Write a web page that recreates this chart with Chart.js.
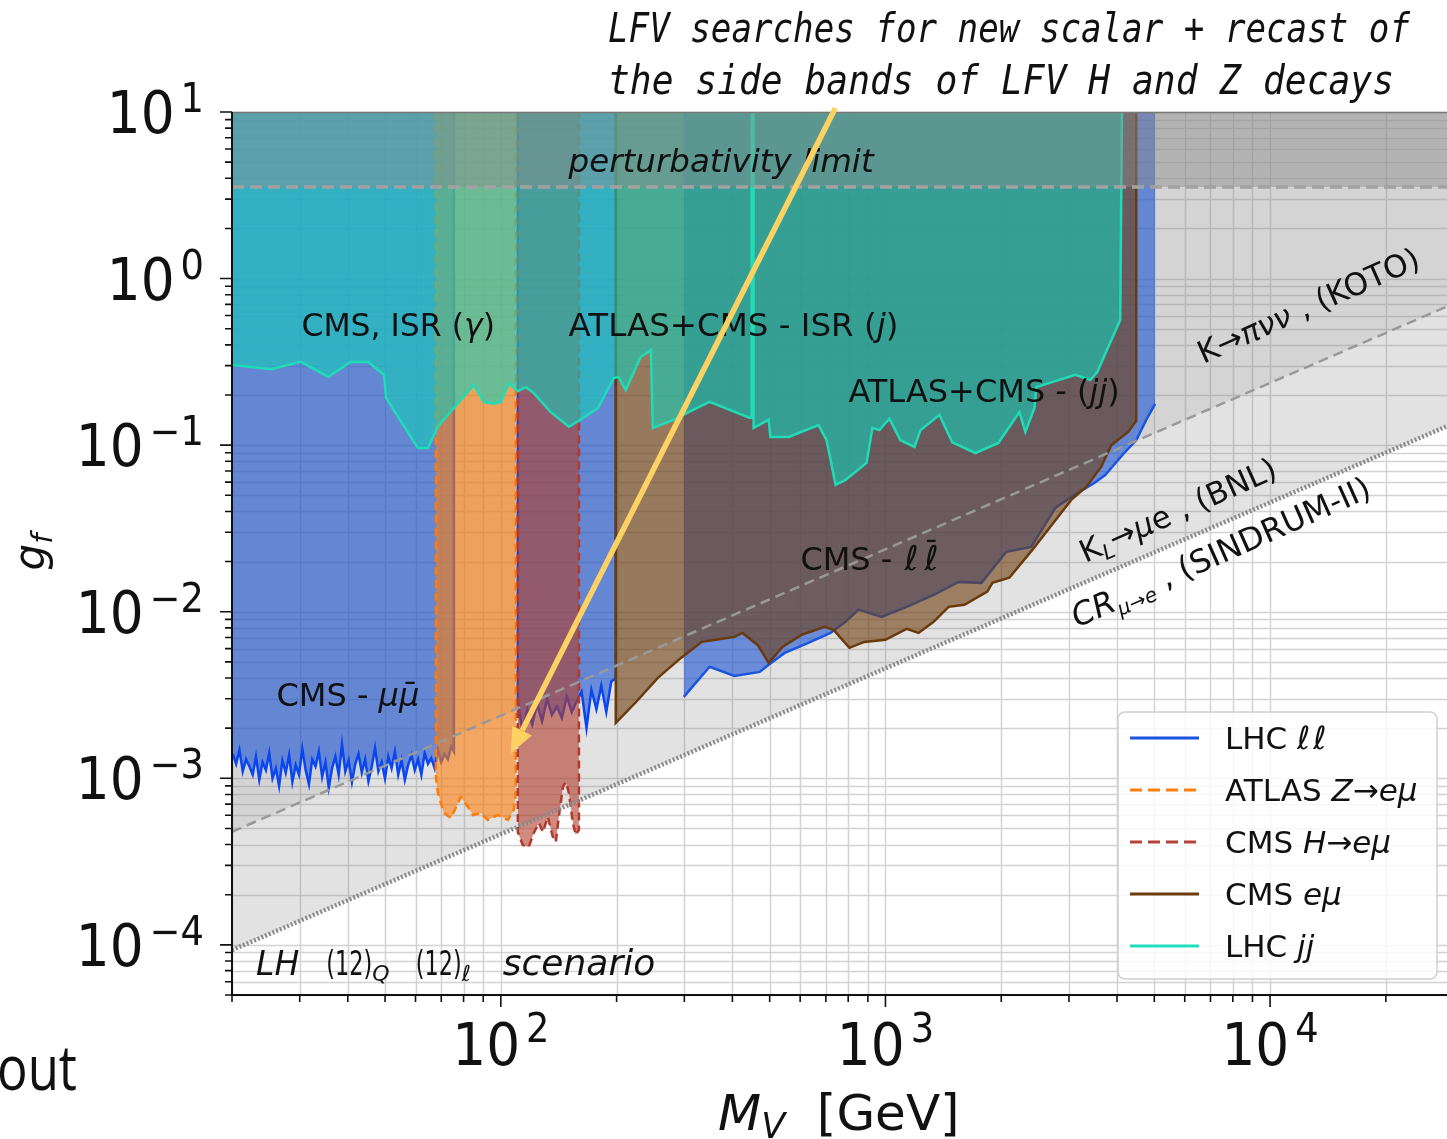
<!DOCTYPE html>
<html>
<head>
<meta charset="utf-8">
<title>LFV vector bounds</title>
<script src="https://cdn.jsdelivr.net/npm/chart.js@4.4.1/dist/chart.umd.min.js"></script>
<style>
  html, body { margin: 0; padding: 0; background: #fff; overflow: hidden; }
  #wrap { position: relative; width: 1447px; height: 1139px; }
</style>
</head>
<body>
<div id="wrap"><canvas id="limits"></canvas></div>
<script>
// axis ranges and tick labels (powers of ten)
const massRange = [20, 28840];
const couplingRange = [5e-5, 10];
const xTickExps = [2, 3, 4];
const yTickExps = [-4, -3, -2, -1, 0, 1];

// CMS mu mu, below the Z peak (last point closes the region at the top)
const muMuMassA = [20.10, 20.50, 20.91, 21.33, 21.76, 22.19, 22.64, 23.09, 23.55, 24.02, 24.50, 24.99, 25.49,
  26.00, 26.52, 27.05, 27.59, 28.15, 28.71, 29.28, 29.87, 30.47, 31.08, 31.70, 32.33, 32.98, 33.64, 34.31, 35.00,
  35.70, 36.41, 37.14, 37.88, 38.64, 39.41, 40.20, 41.01, 41.83, 42.66, 43.51, 44.38, 45.27, 46.18, 47.10, 48.04,
  49.00, 49.98, 50.98, 52.00, 53.04, 54.10, 55.18, 56.29, 57.41, 58.56, 59.73, 60.93, 62.14, 63.39, 64.65, 65.95,
  67.27, 68.61, 69.98, 71.38, 72.81, 74.27, 75.50, 75.50];
const muMuCoupA = [1.40e-3, 1.22e-3, 1.48e-3, 1.10e-3, 1.30e-3, 1.18e-3, 1.05e-3, 1.35e-3, 0.98e-3, 1.25e-3,
  1.12e-3, 1.42e-3, 1.00e-3, 1.15e-3, 0.90e-3, 1.28e-3, 1.08e-3, 1.38e-3, 0.95e-3, 1.20e-3,
  1.05e-3, 1.50e-3, 1.12e-3, 0.92e-3, 1.30e-3, 1.18e-3, 1.45e-3, 1.02e-3, 1.25e-3, 0.88e-3,
  1.15e-3, 1.35e-3, 1.05e-3, 1.60e-3, 1.10e-3, 1.28e-3, 0.95e-3, 1.22e-3, 1.40e-3, 1.08e-3,
  1.30e-3, 0.96e-3, 1.18e-3, 1.52e-3, 1.10e-3, 1.25e-3, 1.00e-3, 1.35e-3, 1.15e-3, 1.45e-3,
  1.05e-3, 1.28e-3, 0.98e-3, 1.20e-3, 1.38e-3, 1.12e-3, 1.30e-3, 1.05e-3, 1.42e-3, 1.22e-3,
  1.32e-3, 1.15e-3, 1.48e-3, 1.25e-3, 1.40e-3, 1.30e-3, 1.55e-3, 1.45e-3, 10];
// CMS mu mu, above the Z peak
const muMuMassB = [110.7, 110.7, 113.8, 117.2, 120.7, 124.3, 128.0, 131.9, 135.8, 139.9, 144.1, 148.4, 152.9,
  157.5, 162.2, 167.0, 172.0, 177.2, 182.5, 188.0, 193.6, 199.0, 199.0];
const muMuCoupB = [10, 2.9e-3, 1.9e-3, 2.6e-3, 2.1e-3, 2.8e-3, 2.2e-3, 3.0e-3, 2.4e-3, 2.7e-3, 2.3e-3, 3.1e-3,
  2.5e-3, 2.9e-3, 3.3e-3, 2.0e-3, 3.4e-3, 2.6e-3, 3.6e-3, 2.5e-3, 3.8e-3, 4.0e-3, 10];
// CMS l l, high mass
const llMass = [299, 349, 405, 471, 497, 547, 613, 720, 787, 851, 977, 1135, 1334, 1549, 1776, 2061, 2393, 2765,
  3041, 3491, 3727, 4175, 4487, 4795, 5027];
const llCoup = [3.08e-3, 4.67e-3, 4.12e-3, 4.35e-3, 4.80e-3, 5.66e-3, 6.32e-3, 7.46e-3, 8.69e-3, 0.0103, 9.31e-3,
  0.0107, 0.0126, 0.0151, 0.0149, 0.0229, 0.0245, 0.042, 0.0489, 0.0593, 0.0662, 0.0897, 0.107, 0.146, 0.177];
// ATLAS Z -> e mu
const zEmuMass = [67.8, 67.8, 68.6, 71.1, 74.2, 78.7, 82.1, 84.6, 88.7, 92.5, 98.2, 104.3, 108.1, 109.4, 109.4];
const zEmuCoup = [10, 1.02e-3, 8.17e-4, 6.19e-4, 5.78e-4, 7.73e-4, 6.73e-4, 6.02e-4, 6.19e-4, 5.62e-4, 6.02e-4,
  5.62e-4, 6.46e-4, 8.17e-4, 10];
// CMS H -> e mu
const hEmuMass = [110.7, 110.7, 114.0, 118.2, 121.8, 125.6, 128.6, 132.5, 136.5, 139.0, 141.5, 145.0, 147.6,
  150.3, 153.9, 156.6, 159.6, 159.6];
const hEmuCoup = [10, 4.76e-4, 3.98e-4, 3.87e-4, 4.70e-4, 5.40e-4, 4.76e-4, 5.86e-4, 4.45e-4, 4.15e-4, 5.86e-4,
  8.87e-4, 9.50e-4, 8.17e-4, 5.40e-4, 4.57e-4, 4.90e-4, 10];
// CMS e mu
const eMuMass = [199, 199, 225, 256, 294, 333, 362, 405, 425, 465, 497, 540, 605, 695, 733, 806, 881, 1000, 1135,
  1219, 1334, 1459, 1604, 1840, 1897, 2099, 2409, 2731, 3041, 3326, 3638, 3863, 4275, 4487, 4487];
const eMuCoup = [10, 2.15e-3, 2.88e-3, 4.01e-3, 5.28e-3, 6.59e-3, 6.78e-3, 7.06e-3, 7.46e-3, 6.32e-3, 4.93e-3,
  6.15e-3, 7.26e-3, 8.11e-3, 7.78e-3, 6.07e-3, 6.59e-3, 6.78e-3, 7.89e-3, 7.46e-3, 8.69e-3, 0.0107, 0.011,
  0.0132, 0.0149, 0.016, 0.0235, 0.0341, 0.0469, 0.0561, 0.074, 0.1, 0.12, 0.14, 10];
// LHC jj: CMS ISR(gamma), ATLAS+CMS ISR(j), ATLAS+CMS dijet
const jjMass = [20.1, 25.3, 30.2, 35.6, 40.7, 45.2, 49.7, 50.3, 60.8, 64.6, 68.6, 78.7, 85.1, 90.3, 95.3, 100,
  104.9, 110.7, 116.1, 121.1, 134.8, 150.3, 159.6, 178.7, 196.7, 202.5, 211.2, 231, 245.5, 248.4, 281.4, 307.6,
  349, 443, 449, 449, 454, 454, 497, 502, 560, 670, 703, 742, 787, 893, 925, 964, 1024, 1094, 1190, 1233, 1381,
  1492, 1713, 1966, 2230, 2311, 2440, 2468, 3116, 3408, 3554, 4077, 4120];
const jjCoup = [0.303, 0.286, 0.316, 0.257, 0.316, 0.316, 0.264, 0.192, 0.0962, 0.0962, 0.129, 0.187, 0.23,
  0.182, 0.177, 0.182, 0.236, 0.211, 0.223, 0.208, 0.158, 0.129, 0.14, 0.167, 0.253, 0.257, 0.214, 0.338, 0.372,
  0.127, 0.142, 0.158, 0.182, 0.146, 0.146, 10, 10, 0.127, 0.142, 0.112, 0.112, 0.132, 0.107, 0.0577, 0.0618,
  0.0782, 0.127, 0.123, 0.144, 0.107, 0.0975, 0.123, 0.152, 0.104, 0.0897, 0.103, 0.158, 0.12, 0.167, 0.223,
  0.264, 0.246, 0.275, 0.565, 10];
// indirect bounds and perturbativity
const kaonMass = [20, 28840];
const kaonCoup = [4.77e-4, 0.68];
const muConvMass = [20, 28840];
const muConvCoup = [9.3e-5, 0.13];
const pertMass = [20, 28840];
const pertCoup = [3.54, 3.54];

const pts = (xs, ys) => xs.map((x, i) => ({ x, y: ys[i] }));

function region(label, xs, ys, line, fillColor, order, extra) {
  return Object.assign({
    label, data: pts(xs, ys), borderColor: line, backgroundColor: fillColor,
    borderWidth: 2.5, fill: 'end', order, pointRadius: 0, tension: 0
  }, extra || {});
}

// text helpers: a label is a list of segments drawn one after another
const S = (t, size, o = {}) => Object.assign({ t, size }, o);
const fontOf = s => (s.it ? 'italic ' : '') + s.size + 'px ' + (s.family || '"DejaVu Sans"');

function drawRich(ctx, segs, x, y, align) {
  let total = 0;
  const parts = segs.map(s => {
    ctx.font = fontOf(s);
    const w = ctx.measureText(s.t).width * (s.sx || 1) + (s.dx || 0);
    total += w;
    return { s, w };
  });
  let cx = align === 'center' ? x - total / 2 : align === 'right' ? x - total : x;
  parts.forEach(({ s, w }) => {
    ctx.font = fontOf(s);
    ctx.save();
    ctx.translate(cx + (s.dx || 0), y + (s.dy || 0));
    ctx.scale(s.sx || 1, 1);
    ctx.fillText(s.t, 0, 0);
    ctx.restore();
    cx += w;
  });
}

const plotLabels = [
  { at: [30.3, 0.452], segs: [S('CMS, ISR (', 31.5), S('γ', 31.5, { it: 1 }), S(')', 31.5)] },
  { at: [150, 0.452], segs: [S('ATLAS+CMS - ISR (', 32.5), S('j', 32.5, { it: 1 }), S(')', 32.5)] },
  { at: [801, 0.182], segs: [S('ATLAS+CMS - (', 32), S('jj', 32, { it: 1 }), S(')', 32)] },
  { at: [601, 0.0178], segs: [S('CMS - ', 32), S('ℓ', 34, { it: 1, dx: 2 }), S('ℓ', 34, { it: 1, dx: 6 }),
      S('¯', 30, { dx: -15, dy: -8 })] },
  { at: [26.1, 2.72e-3], segs: [S('CMS - ', 32), S('μμ̄', 32, { it: 1 })] },
  { at: [150, 4.36], segs: [S('perturbativity limit', 32.5, { it: 1 })] },
  { at: [23.1, 6.6e-5], segs: [S('LH', 33, { it: 1 }), S('(12)', 33, { dx: 27, sx: 0.68 }),
      S('Q', 22, { it: 1, dy: 6 }), S('(12)', 33, { dx: 26, sx: 0.68 }), S('ℓ', 22, { it: 1, dy: 6 }),
      S('scenario', 36, { it: 1, dx: 32 })] },
  { at: [6699, 0.307], rot: -24, segs: [S('K→', 31), S('πνν', 31, { it: 1 }), S(' , (KOTO)', 31)] },
  { at: [3307, 0.0196], rot: -24, segs: [S('K', 31), S('L', 21, { it: 1, dy: 6 }), S('→', 31),
      S('μ', 31, { it: 1 }), S('e , (BNL)', 31)] },
  { at: [3153, 8.0e-3], rot: -24, segs: [S('CR', 32, { it: 1 }), S('μ→e', 20, { it: 1, dy: 7 }),
      S(' , (SINDRUM-II)', 32)] }
];

const legendItems = [
  { color: '#1a55e0', dash: [], segs: [S('LHC ', 31), S('ℓ', 32, { it: 1 }), S('ℓ', 32, { it: 1, dx: 3 })] },
  { color: '#ff7f0e', dash: [12, 6], segs: [S('ATLAS ', 31), S('Z', 31, { it: 1 }), S('→', 31), S('eμ', 31, { it: 1 })] },
  { color: '#b5453a', dash: [12, 6], segs: [S('CMS ', 31), S('H', 31, { it: 1 }), S('→', 31), S('eμ', 31, { it: 1 })] },
  { color: '#6e3c0c', dash: [], segs: [S('CMS ', 31), S('eμ', 31, { it: 1 })] },
  { color: '#1fe0bd', dash: [], segs: [S('LHC ', 31), S('jj', 31, { it: 1 })] }
];

const arrowFrom = [741, 10.57];
const arrowTo = [106.2, 1.42e-3];

// 1..9 x 10^n positions inside a range, for grid lines and tick marks
function logSteps(min, max) {
  const out = [];
  for (let e = Math.floor(Math.log10(min)); e <= Math.ceil(Math.log10(max)); e++) {
    for (let k = 1; k <= 9; k++) {
      const v = k * Math.pow(10, e);
      if (v >= min * 0.999 && v <= max * 1.001) out.push({ v, major: k === 1 });
    }
  }
  return out;
}

const gridPlugin = {
  id: 'logGrid',
  beforeDatasetsDraw(chart) {
    const { ctx, chartArea: a, scales: { x, y } } = chart;
    ctx.save();
    ctx.strokeStyle = 'rgba(150,150,150,0.42)';
    ctx.lineWidth = 1.5;
    ctx.beginPath();
    logSteps(x.min, x.max).forEach(t => {
      const p = Math.round(x.getPixelForValue(t.v)) + 0.5;
      ctx.moveTo(p, a.top); ctx.lineTo(p, a.bottom);
    });
    logSteps(y.min, y.max).forEach(t => {
      const p = Math.round(y.getPixelForValue(t.v)) + 0.5;
      ctx.moveTo(a.left, p); ctx.lineTo(a.right, p);
    });
    ctx.stroke();
    ctx.restore();
  }
};

const supText = e => (e < 0 ? '−' + (-e) : String(e));

const overlayPlugin = {
  id: 'overlay',
  afterDraw(chart) {
    const { ctx, chartArea: a, scales: { x, y } } = chart;
    const px = (m, g) => [x.getPixelForValue(m), y.getPixelForValue(g)];
    ctx.save();
    ctx.textAlign = 'left';
    ctx.textBaseline = 'alphabetic';

    // labels inside the plot
    ctx.fillStyle = '#111';
    plotLabels.forEach(l => {
      const [lx, ly] = px(l.at[0], l.at[1]);
      ctx.save();
      ctx.translate(lx, ly);
      if (l.rot) ctx.rotate(l.rot * Math.PI / 180);
      drawRich(ctx, l.segs, 0, 0, 'left');
      ctx.restore();
    });

    // legend box
    const bx = a.right - 329, by = a.bottom - 283;
    ctx.fillStyle = 'rgba(255,255,255,0.82)';
    ctx.strokeStyle = '#cfcfcf';
    ctx.lineWidth = 1.5;
    ctx.beginPath();
    ctx.roundRect(bx, by, 319, 267, 7);
    ctx.fill();
    ctx.stroke();
    legendItems.forEach((it, i) => {
      const ry = by + 26 + i * 52;
      ctx.strokeStyle = it.color;
      ctx.lineWidth = 3;
      ctx.setLineDash(it.dash);
      ctx.beginPath();
      ctx.moveTo(bx + 12, ry);
      ctx.lineTo(bx + 81, ry);
      ctx.stroke();
      ctx.setLineDash([]);
      ctx.fillStyle = '#111';
      drawRich(ctx, it.segs, bx + 107, ry + 11, 'left');
    });

    // frame
    ctx.strokeStyle = '#777';
    ctx.lineWidth = 1.5;
    ctx.beginPath();
    ctx.moveTo(a.left, a.top + 0.5); ctx.lineTo(a.right, a.top + 0.5);
    ctx.stroke();
    ctx.strokeStyle = '#111';
    ctx.lineWidth = 2;
    ctx.beginPath();
    ctx.moveTo(a.left, a.top); ctx.lineTo(a.left, a.bottom); ctx.lineTo(a.right, a.bottom);
    ctx.stroke();

    // tick marks
    ctx.lineWidth = 1.6;
    ctx.beginPath();
    logSteps(x.min, x.max).forEach(t => {
      const p = x.getPixelForValue(t.v);
      ctx.moveTo(p, a.bottom); ctx.lineTo(p, a.bottom + (t.major ? 12 : 7));
    });
    logSteps(y.min, y.max).forEach(t => {
      const p = y.getPixelForValue(t.v);
      ctx.moveTo(a.left, p); ctx.lineTo(a.left - (t.major ? 12 : 7), p);
    });
    ctx.stroke();

    // tick labels 10^n
    ctx.fillStyle = '#111';
    yTickExps.forEach(e => {
      const p = y.getPixelForValue(Math.pow(10, e));
      drawRich(ctx, [S('10', 58, { sx: 0.92 }), S(supText(e), 40, { sx: 0.92, dx: 6, dy: -21 })],
        a.left - 28, p + 21, 'right');
    });
    xTickExps.forEach(e => {
      const p = x.getPixelForValue(Math.pow(10, e));
      drawRich(ctx, [S('10', 58, { sx: 0.92 }), S(supText(e), 40, { sx: 0.92, dx: 6, dy: -23 })],
        p, a.bottom + 70, 'center');
    });

    // axis titles
    drawRich(ctx, [S('M', 50, { it: 1 }), S('V', 35, { it: 1, dy: 8 }), S('  [GeV]', 50)], 718, a.bottom + 135, 'left');
    ctx.save();
    ctx.translate(44, 552);
    ctx.rotate(-Math.PI / 2);
    drawRich(ctx, [S('g', 42, { it: 1 }), S('f', 29, { it: 1, dy: 8 })], 0, 0, 'center');
    ctx.restore();

    // slide annotation above the plot
    ctx.font = 'italic 40px "DejaVu Sans Mono"';
    ctx.fillText('LFV searches for new scalar + recast of', 608, 42, 802);
    ctx.fillText('the side bands of LFV H and Z decays', 608, 94, 786);
    ctx.font = '62px "Open Sans"';
    ctx.textAlign = 'right';
    ctx.fillText('out', 77, 1090, 80);
    ctx.textAlign = 'left';

    // yellow arrow
    const [x0, y0] = px(arrowFrom[0], arrowFrom[1]);
    const [x1, y1] = px(arrowTo[0], arrowTo[1]);
    const ang = Math.atan2(y1 - y0, x1 - x0);
    const headLen = 25, headHalf = 11;
    const hx = x1 - headLen * Math.cos(ang), hy = y1 - headLen * Math.sin(ang);
    ctx.strokeStyle = '#fdd262';
    ctx.fillStyle = '#fdd262';
    ctx.lineWidth = 5.5;
    ctx.lineCap = 'butt';
    ctx.beginPath();
    ctx.moveTo(x0, y0); ctx.lineTo(hx, hy);
    ctx.stroke();
    ctx.beginPath();
    ctx.moveTo(x1, y1);
    ctx.lineTo(hx + headHalf * Math.sin(ang), hy - headHalf * Math.cos(ang));
    ctx.lineTo(hx - headHalf * Math.sin(ang), hy + headHalf * Math.cos(ang));
    ctx.closePath();
    ctx.fill();

    ctx.restore();
  }
};

const gray = a => 'rgba(128,128,128,' + a + ')';

new Chart(document.getElementById('limits'), {
  type: 'line',
  data: {
    datasets: [
      region('perturbativity', pertMass, pertCoup, '#a2a2a2', 'rgba(140,140,140,0.45)', 0,
        { borderWidth: 3.5, borderDash: [12, 6] }),
      region('K -> pi nu nu / KL -> mu e', kaonMass, kaonCoup, '#999999', 'transparent', 1,
        { fill: false, borderWidth: 2.5, borderDash: [10, 6] }),
      region('CR mu -> e', muConvMass, muConvCoup, '#8a8a8a', 'transparent', 2,
        { fill: false, borderWidth: 4.5, borderDash: [2, 2] }),
      region('LHC jj', jjMass, jjCoup, '#1fdcb6', 'rgba(20,205,185,0.6)', 3),
      region('CMS e mu', eMuMass, eMuCoup, '#6b3a0c', 'rgba(110,62,15,0.6)', 4),
      region('CMS H -> e mu', hEmuMass, hEmuCoup, '#b03a2e', 'rgba(178,60,42,0.6)', 5, { borderDash: [8, 5] }),
      region('ATLAS Z -> e mu', zEmuMass, zEmuCoup, '#ff7a0a', 'rgba(255,127,14,0.6)', 6, { borderDash: [8, 5] }),
      region('LHC ll high', llMass, llCoup, '#1a55e0', 'rgba(26,81,210,0.6)', 7),
      region('CMS mu mu A', muMuMassA, muMuCoupA, '#0a46f0', 'rgba(26,81,210,0.6)', 8),
      region('CMS mu mu B', muMuMassB, muMuCoupB, '#0a46f0', 'rgba(26,81,210,0.6)', 9),
      region('kaon shade', kaonMass, kaonCoup, 'transparent', gray(0.14), 10, { borderWidth: 0 }),
      region('CR shade', muConvMass, muConvCoup, 'transparent', gray(0.23), 11, { borderWidth: 0 })
    ]
  },
  options: {
    responsive: true,
    maintainAspectRatio: false,
    animation: false,
    events: [],
    layout: { autoPadding: false, padding: { left: 232, top: 112, right: 0, bottom: 144 } },
    scales: {
      x: {
        type: 'logarithmic', min: massRange[0], max: massRange[1],
        grid: { display: false }, ticks: { display: false }, border: { display: false },
        afterFit: s => { s.height = 0; }
      },
      y: {
        type: 'logarithmic', min: couplingRange[0], max: couplingRange[1],
        grid: { display: false }, ticks: { display: false }, border: { display: false },
        afterFit: s => { s.width = 0; }
      }
    },
    plugins: { legend: { display: false }, tooltip: { enabled: false } }
  },
  plugins: [gridPlugin, overlayPlugin]
});
</script>
</body>
</html>
